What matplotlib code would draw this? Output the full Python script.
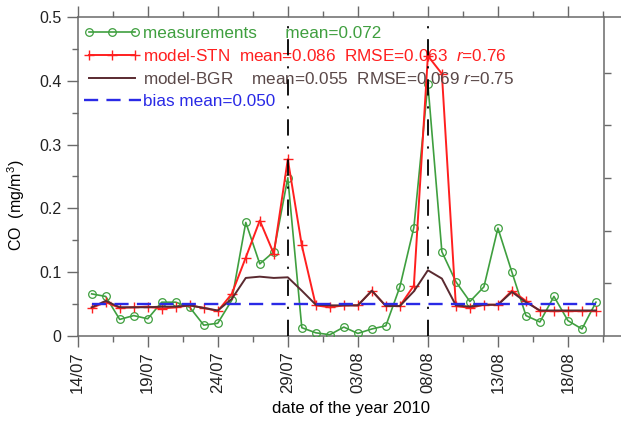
import matplotlib
matplotlib.use('Agg')
from matplotlib import pyplot as plt
from matplotlib.ticker import FixedLocator, MultipleLocator, FuncFormatter
import numpy as np

plt.rcParams['font.family'] = ['Liberation Sans', 'DejaVu Sans']
plt.rcParams['mathtext.fontset'] = 'custom'
plt.rcParams['mathtext.rm'] = 'Liberation Sans'
plt.rcParams['mathtext.it'] = 'Liberation Sans:italic'

# days counted from 14/07/2010 (day 0)
days = np.arange(1, 38)
measurements = [0.066, 0.062, 0.026, 0.032, 0.027, 0.053, 0.053, 0.045, 0.017, 0.020,
                0.056, 0.178, 0.113, 0.132, 0.248, 0.013, 0.005, 0.002, 0.014, 0.004,
                0.011, 0.016, 0.077, 0.170, 0.395, 0.132, 0.085, 0.054, 0.077, 0.169,
                0.100, 0.032, 0.022, 0.062, 0.024, 0.011, 0.053]
model_stn = [0.044, 0.053, 0.044, 0.045, 0.046, 0.043, 0.045, 0.048, 0.044, 0.039,
             0.066, 0.123, 0.181, 0.129, 0.277, 0.142, 0.048, 0.045, 0.048, 0.048,
             0.071, 0.047, 0.047, 0.079, 0.439, 0.411, 0.047, 0.044, 0.049, 0.049,
             0.071, 0.055, 0.039, 0.039, 0.039, 0.039, 0.039]
model_bgr = [0.045, 0.055, 0.045, 0.045, 0.045, 0.046, 0.046, 0.048, 0.044, 0.040,
             0.058, 0.091, 0.093, 0.091, 0.092, 0.071, 0.049, 0.048, 0.048, 0.048,
             0.071, 0.047, 0.047, 0.070, 0.103, 0.090, 0.048, 0.046, 0.049, 0.049,
             0.069, 0.053, 0.040, 0.040, 0.040, 0.040, 0.040]
bias_mean = 0.050
event_days = [15, 25]   # 29/07 and 08/08

tick_days = [0, 5, 10, 15, 20, 25, 30, 35]
tick_labels = ['14/07', '19/07', '24/07', '29/07', '03/08', '08/08', '13/08', '18/08']
right_ticks = [0.0825, 0.165, 0.2475, 0.33, 0.4125]

labels = ['measurements      mean=0.072',
          'model-STN  mean=0.086  RMSE=0.063  $r$=0.76',
          'model-BGR    mean=0.055  RMSE=0.069 $r$=0.75',
          'bias mean=0.050']
green = '#3f9f3f'
red = '#ff1f1f'
brown = '#5a2a30'
blue = '#2a2ae6'
spine_c = '#6a6a6a'

fig = plt.figure(figsize=(6.21, 4.22), dpi=100)
ax = fig.add_axes([0.1251, 0.2038, 0.8797, 0.756])

l1, = ax.plot(days, measurements, color=green, lw=1.2, marker='o', ms=5.5,
              mfc='none', mew=0.9, zorder=3)
l2, = ax.plot(days, model_stn, color=red, lw=1.4, marker='+', ms=6.5, mew=1.0, zorder=4)
l3, = ax.plot(days, model_bgr, color=brown, lw=1.4, zorder=5)
l4 = ax.hlines(bias_mean, days[0], days[-1], colors=blue, lw=1.7,
               linestyles=(0, (6, 3.5)), zorder=6)
for d in event_days:
    ax.axvline(d, color='black', lw=1.3, ls=(0, (9, 6, 1.2, 6)), zorder=7)

ax.set_xlim(0, 39)
ax.set_ylim(0, 0.5)
ax.xaxis.set_major_locator(FixedLocator(tick_days))
ax.set_xticklabels(tick_labels, rotation=90)
ax.xaxis.set_minor_locator(MultipleLocator(2.5))
ax.yaxis.set_major_locator(MultipleLocator(0.1))
ax.yaxis.set_minor_locator(MultipleLocator(0.05))
ax.yaxis.set_major_formatter(FuncFormatter(lambda v, p: '0' if abs(v) < 1e-9 else '%.1f' % v))

for s in ax.spines.values():
    s.set_color(spine_c)
    s.set_linewidth(1.1)
ax.spines['right'].set_visible(False)
ax.tick_params(which='both', direction='out', colors=spine_c, labelcolor='#222222',
               labelsize=11.5, top=True, width=1.0)
ax.tick_params(which='major', length=8)
ax.tick_params(which='minor', length=4)
ax.tick_params(axis='x', which='major', pad=3, labelsize=12)

# right-hand axis line with its own ticks
sec = ax.secondary_yaxis(37.6 / 39)
sec.spines['right'].set_color(spine_c)
sec.spines['right'].set_linewidth(1.1)
sec.set_yticks(right_ticks)
sec.tick_params(direction='out', length=5, colors=spine_c, width=1.0, labelright=False)

ax.set_ylabel('CO  (mg/m$^3$)', fontsize=11.5)
ax.yaxis.set_label_coords(-0.092, 0.41)
ax.set_xlabel('date of the year 2010', fontsize=12, labelpad=6)

leg = ax.legend([l1, l2, l3, l4], labels, loc='upper left', bbox_to_anchor=(0.012, 0.972),
                frameon=False, fontsize=12.3, numpoints=3, handlelength=3.3,
                handletextpad=0.15, labelspacing=0.42, borderpad=0, borderaxespad=0)
for t, c in zip(leg.get_texts(), [green, red, '#5a4848', blue]):
    t.set_color(c)

fig.savefig('out.png', dpi=100)
